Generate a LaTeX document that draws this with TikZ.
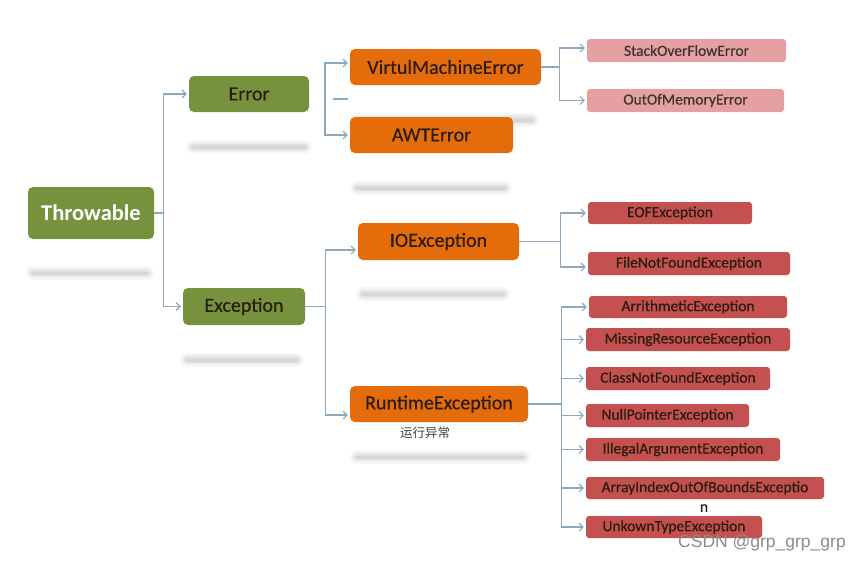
\documentclass[tikz,border=0pt]{standalone}
\usepackage{fontspec}
\setmainfont{Carlito}
\newfontfamily\cjkfont{Noto Sans CJK SC}
\newfontfamily\wmfont{Liberation Sans}
\newfontfamily\boxfont[FakeBold=0.35]{Carlito}
\usetikzlibrary{arrows.meta}
\definecolor{grn}{HTML}{76923C}
\definecolor{org}{HTML}{E46C0A}
\definecolor{pnk}{HTML}{E5A0A3}
\definecolor{rd}{HTML}{C4504F}
\definecolor{lnc}{HTML}{8DA8BE}
\definecolor{txt}{HTML}{2A1C10}
\newcommand\shbar[3]{%
 \draw[line cap=round, line width=14pt, black, opacity=0.03] (#1,#3) -- (#2,#3);
 \draw[line cap=round, line width=10pt, black, opacity=0.04] (#1,#3) -- (#2,#3);
 \draw[line cap=round, line width=6pt, black, opacity=0.05] (#1,#3) -- (#2,#3);
 \draw[line cap=round, line width=3pt, black, opacity=0.04] (#1,#3) -- (#2,#3);}
\tikzset{
 bigtxt/.style={font=\boxfont\fontsize{20}{24}\selectfont},
 smalltxt/.style={font=\boxfont\fontsize{15.5}{18}\selectfont},
 gbox/.style={fill=grn, rounded corners=5pt, inner sep=0pt, text=txt, bigtxt},
 obox/.style={fill=org, rounded corners=5pt, inner sep=0pt, text=txt, bigtxt},
 pbox/.style={fill=pnk, rounded corners=3pt, inner sep=0pt, text=txt!90, smalltxt},
 rbox/.style={fill=rd, rounded corners=3pt, inner sep=0pt, text=txt, smalltxt},
 cline/.style={draw=lnc, line width=1.1pt},
 arr/.style={cline, -{Straight Barb[length=4pt,width=8pt]}, shorten >=2pt},
}
\begin{document}
\begin{tikzpicture}[x=1pt,y=-1pt]
\useasboundingbox (0,0) rectangle (865,562);
\fill[white] (0,0) rectangle (865,562);
% soft grey reflections
\shbar{193}{305}{147}
\shbar{33}{147}{273}
\shbar{187}{297}{360}
\shbar{360}{532}{120}
\shbar{357}{505}{188}
\shbar{363}{503}{294}
\shbar{357}{523}{457}
% level 0 and 1
\node[gbox, text=white, font=\bfseries\fontsize{22.5}{26}\selectfont, minimum width=126pt, minimum height=52pt] (thr) at (91,213) {Throwable};
\node[gbox, minimum width=120pt, minimum height=36pt] (err) at (249,94) {Error};
\node[gbox, minimum width=122pt, minimum height=37pt] (exc) at (244,306.5) {Exception};
% level 2
\node[obox, minimum width=191pt, minimum height=36pt] (vme) at (445.5,67) {VirtulMachineError};
\node[obox, minimum width=163pt, minimum height=36pt] (awt) at (431.5,135) {AWTError};
\node[obox, minimum width=161pt, minimum height=37pt] (io) at (438.5,241.5) {IOException};
\node[obox, minimum width=178pt, minimum height=36pt] (rt) at (439,404) {RuntimeException};
\node[text=black!75, font=\cjkfont\fontsize{12.5}{14}\selectfont] (rtlab) at (425,433) {运行异常};
% level 3
\node[pbox, minimum width=199pt, minimum height=23pt] (sof) at (686.5,50.5) {StackOverFlowError};
\node[pbox, minimum width=197pt, minimum height=23pt] (oom) at (685.5,100.5) {OutOfMemoryError};
\node[rbox, minimum width=164pt, minimum height=22pt] (eof) at (670,213) {EOFException};
\node[rbox, minimum width=202pt, minimum height=23pt] (fnf) at (689,263.5) {FileNotFoundException};
\node[rbox, minimum width=198pt, minimum height=22pt] (ari) at (688,307) {ArrithmeticException};
\node[rbox, minimum width=204pt, minimum height=23pt] (mis) at (688,339.5) {MissingResourceException};
\node[rbox, minimum width=184pt, minimum height=23pt] (cnf) at (678,378.5) {ClassNotFoundException};
\node[rbox, minimum width=163pt, minimum height=23pt] (npe) at (667.5,415.5) {NullPointerException};
\node[rbox, minimum width=194pt, minimum height=23pt] (iae) at (683,449.5) {IllegalArgumentException};
\node[rbox, minimum width=238pt, minimum height=22pt] (aio) at (705,488) {ArrayIndexOutOfBoundsExceptio};
\node[text=txt, smalltxt] (aion) at (704,508) {n};
\node[rbox, minimum width=176pt, minimum height=22pt] (ukt) at (674,527) {UnkownTypeException};
% connectors
\draw[cline] (thr.east) -- ++(9,0) coordinate (j1);
\draw[arr] (j1) |- (err.west);
\draw[arr] (j1) |- (exc.west);
\coordinate (eb) at (325,99);
\draw[arr] (eb) |- ([yshift=4pt]vme.west);
\draw[arr] (eb) |- (awt.west);
\coordinate (d1) at (333,99);
\coordinate (d2) at (348,99);
\draw[cline] (d1) -- (d2);
\draw[cline] (exc.east) -- ++(20,0) coordinate (j2);
\draw[arr] (j2) |- ([yshift=-8.5pt]io.west);
\draw[arr] (j2) |- ([yshift=-11pt]rt.west);
\draw[cline] (vme.east) -- ++(18,0) coordinate (j3);
\draw[arr] (j3) |- ([yshift=2.5pt]sof.west);
\draw[arr] (j3) |- (oom.west);
\draw[cline] (io.east) -- ++(41,0) coordinate (j4);
\draw[arr] (j4) |- (eof.west);
\draw[arr] (j4) |- ([yshift=-3.5pt]fnf.west);
\draw[cline] (rt.east) -- ++(33,0) coordinate (j5);
\foreach \t in {ari,mis,cnf,npe,iae,aio,ukt}
  \draw[arr] (j5) |- (\t.west);
% watermark
\node[text=black!45, font=\wmfont\fontsize{17.5}{20}\selectfont] (wm) at (762,543) {CSDN @grp\_grp\_grp};
\end{tikzpicture}
\end{document}
